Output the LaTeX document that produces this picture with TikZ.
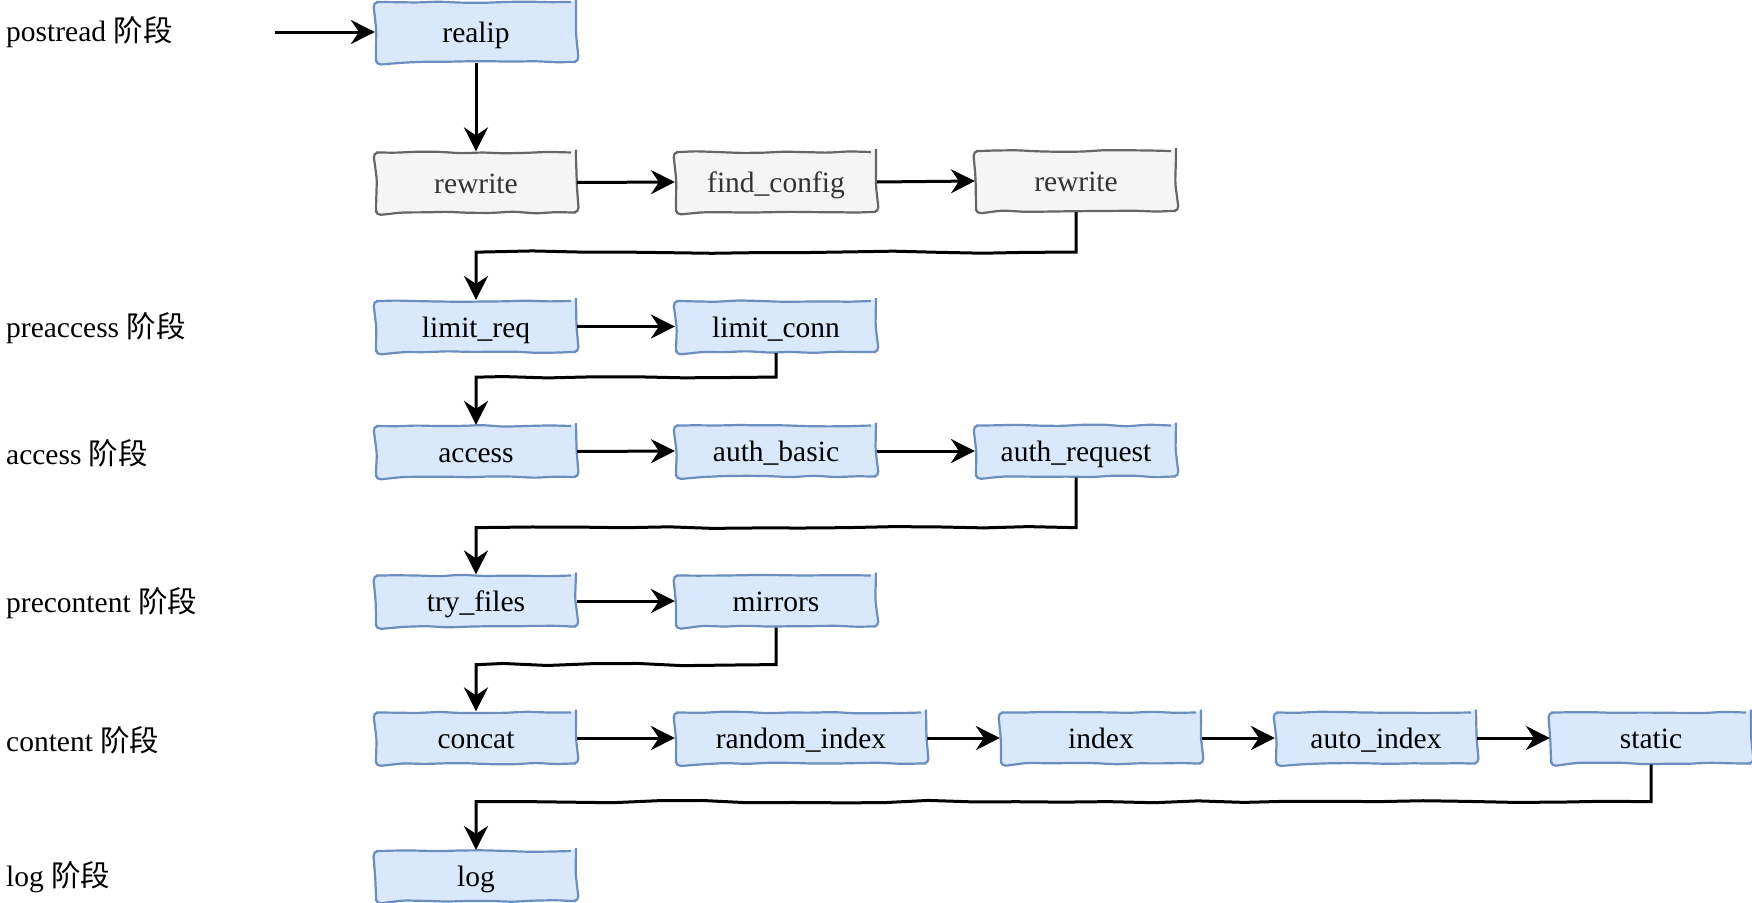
\documentclass[tikz,border=0pt]{standalone}
\usepackage{fontspec}
\setmainfont{Liberation Serif}
\newfontfamily\cjk{Noto Sans CJK SC}
\usetikzlibrary{arrows.meta,decorations.pathmorphing}
\definecolor{bfill}{HTML}{DAE8FC}
\definecolor{bline}{HTML}{6C8EBF}
\definecolor{gfill}{HTML}{F5F5F5}
\definecolor{gline}{HTML}{666666}
\definecolor{gtext}{HTML}{333333}
\tikzset{
  sketchy/.style={decorate,decoration={random steps,segment length=22pt,amplitude=0.9pt},rounded corners=5pt},
  boxtext/.style={font=\fontsize{29.5}{32}\selectfont,text height=22pt,text depth=1pt,inner sep=0pt},
  bluebox/.style={sketchy,boxtext,draw=bline,fill=bfill,line width=2.2pt,minimum width=200pt,minimum height=51pt,text=black},
  graybox/.style={sketchy,boxtext,draw=gline,fill=gfill,line width=2.2pt,minimum width=200pt,minimum height=60pt,text=gtext},
  phase/.style={anchor=west,inner sep=0pt,font=\fontsize{29.5}{32}\selectfont},
  arr/.style={line width=3pt,draw=black,-{Stealth[length=24pt,width=24pt,inset=8pt]}},
  conn/.style={arr,decorate,decoration={random steps,segment length=45pt,amplitude=1pt,post=lineto,post length=30pt,pre=lineto,pre length=4pt}},
  wob/.style={decoration={random steps,segment length=45pt,amplitude=1.2pt,pre=lineto,pre length=3pt,post=lineto,post length=3pt}}
}
\begin{document}
\begin{tikzpicture}[x=1pt,y=-1pt]
\pgfmathsetseed{7}
\useasboundingbox (0,0) rectangle (1752,902);
% phase labels
\node[phase] (l1) at (6,32) {postread {\cjk 阶段}};
\node[phase] (l2) at (6,328) {preaccess {\cjk 阶段}};
\node[phase] (l3) at (6,453) {access {\cjk 阶段}};
\node[phase] (l4) at (6,603) {precontent {\cjk 阶段}};
\node[phase] (l5) at (6,740) {content {\cjk 阶段}};
\node[phase] (l6) at (6,877) {log {\cjk 阶段}};
% row 1
\node[bluebox,minimum height=60pt] (realip) at (476,32) {realip};
% row 2
\node[graybox] (rw1) at (476,182.5) {rewrite};
\node[graybox] (fc) at (776,182) {find\_config};
\node[graybox] (rw2) at (1076,181) {rewrite};
% row 3
\node[bluebox] (lreq) at (476,326.5) {limit\_req};
\node[bluebox] (lconn) at (776,326.5) {limit\_conn};
% row 4
\node[bluebox] (acc) at (476,451.5) {access};
\node[bluebox] (ab) at (776,451) {auth\_basic};
\node[bluebox] (ar) at (1076,451) {auth\_request};
% row 5
\node[bluebox] (tf) at (476,601) {try\_files};
\node[bluebox] (mir) at (776,601) {mirrors};
% row 6
\node[bluebox] (cc) at (476,738) {concat};
\node[bluebox,minimum width=250pt] (ri) at (801,738) {random\_index};
\node[bluebox] (idx) at (1101,738) {index};
\node[bluebox] (ai) at (1376,738) {auto\_index};
\node[bluebox] (st) at (1651,738) {static};
% row 7
\node[bluebox,minimum height=50pt] (log) at (476,876) {log};
% connectors
\coordinate (start) at (275,32);
\draw[conn] (start) -- (realip.west);
\draw[arr] (realip.south) -- (rw1.north);
\draw[conn] (rw1.east) -- (fc.west);
\draw[conn] (fc.east) -- (rw2.west);
\draw[arr] (rw2.south) -- ++(0,40) coordinate (k1) decorate[wob] {-- (k1 -| lreq.north)} -- (lreq.north);
\draw[conn] (lreq.east) -- (lconn.west);
\draw[arr] (lconn.south) -- ++(0,24) coordinate (k2) decorate[wob] {-- (k2 -| acc.north)} -- (acc.north);
\draw[conn] (acc.east) -- (ab.west);
\draw[conn] (ab.east) -- (ar.west);
\draw[arr] (ar.south) -- ++(0,50) coordinate (k3) decorate[wob] {-- (k3 -| tf.north)} -- (tf.north);
\draw[conn] (tf.east) -- (mir.west);
\draw[arr] (mir.south) -- ++(0,37) coordinate (k4) decorate[wob] {-- (k4 -| cc.north)} -- (cc.north);
\draw[conn] (cc.east) -- (ri.west);
\draw[conn] (ri.east) -- (idx.west);
\draw[conn] (idx.east) -- (ai.west);
\draw[conn] (ai.east) -- (st.west);
\draw[arr] (st.south) -- ++(0,37) coordinate (k5) decorate[wob] {-- (k5 -| log.north)} -- (log.north);
\end{tikzpicture}
\end{document}
